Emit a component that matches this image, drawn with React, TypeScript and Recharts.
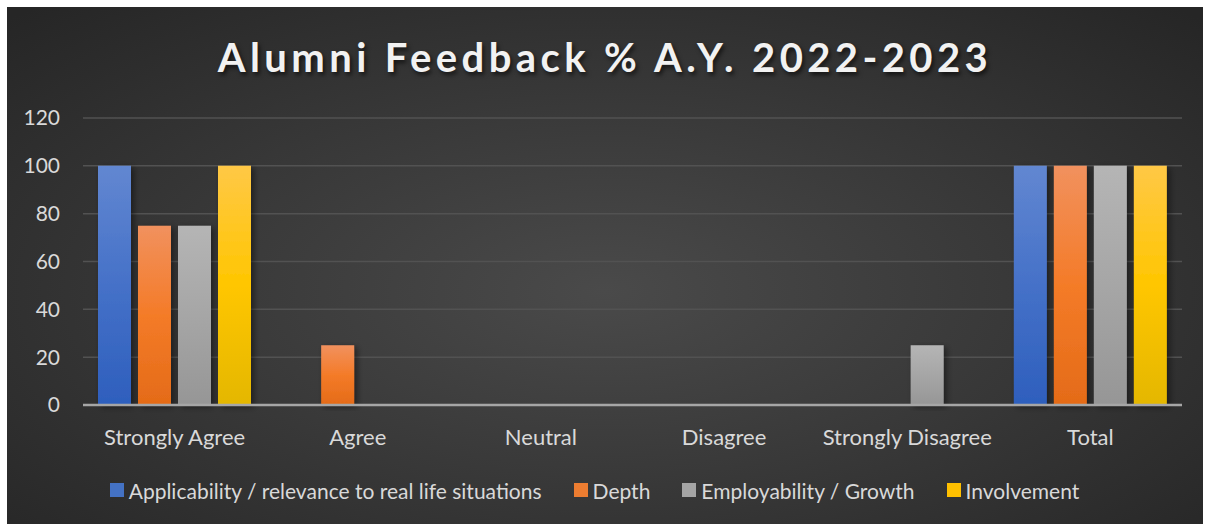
import { BarChart, Bar, XAxis, YAxis, CartesianGrid, Legend } from "recharts";

const categories = ["Strongly Agree", "Agree", "Neutral", "Disagree", "Strongly Disagree", "Total"];
const applicability = [100, 0, 0, 0, 0, 100];
const depth = [75, 25, 0, 0, 0, 100];
const employability = [75, 0, 0, 0, 25, 100];
const involvement = [100, 0, 0, 0, 0, 100];
const yTicks = [0, 20, 40, 60, 80, 100, 120];

const seriesNames = [
  "Applicability / relevance to real life situations",
  "Depth",
  "Employability / Growth",
  "Involvement",
];

const data = categories.map((name, i) => ({
  name,
  applicability: applicability[i],
  depth: depth[i],
  employability: employability[i],
  involvement: involvement[i],
}));

const FONT = "Lato, 'Open Sans', sans-serif";

// gradient stops: top, middle, bottom
const grads: { [key: string]: string[] } = {
  applicability: ["#6287d1", "#4571c8", "#2e5fbd"],
  depth: ["#f1915e", "#f47b28", "#e46b18"],
  employability: ["#b5b5b5", "#a6a6a6", "#969696"],
  involvement: ["#ffc846", "#ffc600", "#e4b700"],
};

const legendColors: { [key: string]: string } = {
  applicability: "#4472c4",
  depth: "#ed7d31",
  employability: "#a5a5a5",
  involvement: "#ffc000",
};

function renderLegend(props: any) {
  const { payload } = props;
  return (
    <div
      style={{
        display: "flex",
        justifyContent: "center",
        alignItems: "center",
        height: 30,
        fontFamily: FONT,
        fontSize: 21,
        color: "#d9d9d9",
        gap: 32,
      }}
    >
      {payload.map((entry: any) => (
        <div key={entry.value} style={{ display: "flex", alignItems: "center" }}>
          <div
            style={{
              width: 14,
              height: 14,
              background: legendColors[entry.dataKey],
              marginRight: 5,
            }}
          />
          <span>{entry.value}</span>
        </div>
      ))}
    </div>
  );
}

export default function App() {
  const keys = ["applicability", "depth", "employability", "involvement"];
  return (
    <div
      style={{
        position: "absolute",
        left: 7,
        top: 7,
        width: 1196,
        height: 517,
        background:
          "radial-gradient(ellipse 70% 75% at 50% 55%, #4a4a4a 0%, #3a3a3a 45%, #262626 100%)",
        overflow: "hidden",
      }}
    >
      <div
        style={{
          position: "absolute",
          top: 30,
          left: 0,
          width: "100%",
          textAlign: "center",
          fontFamily: FONT,
          fontWeight: 700,
          fontSize: 40,
          lineHeight: "40px",
          letterSpacing: 4.4,
          color: "#f2f2f2",
          textShadow: "2px 3px 4px rgba(0,0,0,0.6)",
        }}
      >
        Alumni Feedback % A.Y. 2022-2023
      </div>
      <BarChart
        width={1196}
        height={517}
        data={data}
        margin={{ top: 111, right: 21, left: 0, bottom: 39 }}
        barSize={33}
        barGap={7}
        style={{ position: "absolute", left: 0, top: 0 }}
      >
        <defs>
          {keys.map((k) => (
            <linearGradient key={k} id={`g-${k}`} x1="0" y1="0" x2="0" y2="1">
              <stop offset="0%" stopColor={grads[k][0]} />
              <stop offset="50%" stopColor={grads[k][1]} />
              <stop offset="100%" stopColor={grads[k][2]} />
            </linearGradient>
          ))}
          <filter id="barShadow" x="-20%" y="-5%" width="160%" height="115%">
            <feDropShadow dx="3" dy="2" stdDeviation="3" floodColor="#000" floodOpacity="0.45" />
          </filter>
        </defs>
        <CartesianGrid vertical={false} stroke="#525252" strokeWidth={1.5} />
        <XAxis
          dataKey="name"
          height={50}
          tickSize={0}
          tickMargin={24}
          axisLine={{ stroke: "#a6a6a6", strokeWidth: 2.5 }}
          tick={{ fill: "#d9d9d9", fontSize: 22, fontFamily: FONT }}
        />
        <YAxis
          width={76}
          domain={[0, 120]}
          ticks={yTicks}
          tickSize={0}
          tickMargin={23}
          axisLine={false}
          tickLine={false}
          tick={{ fill: "#d9d9d9", fontSize: 21, fontFamily: FONT }}
        />
        <Legend
          verticalAlign="bottom"
          content={renderLegend}
          wrapperStyle={{ bottom: 19 }}
        />
        {keys.map((k, i) => (
          <Bar
            key={k}
            dataKey={k}
            name={seriesNames[i]}
            fill={`url(#g-${k})`}
            filter="url(#barShadow)"
            isAnimationActive={false}
          />
        ))}
      </BarChart>
    </div>
  );
}
